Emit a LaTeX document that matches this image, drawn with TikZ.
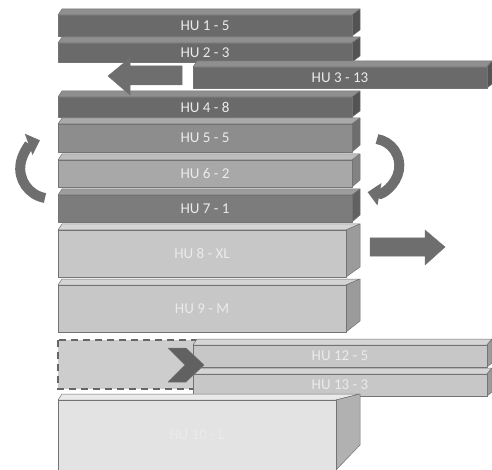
\documentclass[tikz,border=0pt]{standalone}
\usepackage{fontspec}
\setmainfont{Carlito}
\usepackage{tikz}
\usetikzlibrary{arrows.meta}
\definecolor{huDark}{HTML}{6A6A6A}
\definecolor{huMidDark}{HTML}{7C7C7C}
\definecolor{huMid}{HTML}{8D8D8D}
\definecolor{huLight}{HTML}{A8A8A8}
\definecolor{huPale}{HTML}{C7C7C7}
\definecolor{huWhite}{HTML}{E3E3E3}
\definecolor{slotgray}{HTML}{CDCDCD}
\definecolor{arrowgray}{HTML}{6E6E6E}

\begin{document}
\begin{tikzpicture}[
        x=1pt,y=-1pt,
        every node/.append style={font=\fontsize{15}{17}\selectfont}
    ]
    \tikzstyle{face}=[draw=black!55,line width=0.5pt,line join=round];
    \tikzstyle{lbl}=[text=white!92!black,inner sep=0pt];
    \tikzstyle{blk}=[fill=arrowgray,draw=black!55,line width=0.5pt,line join=round];
    \useasboundingbox (0,0) rectangle (492,470);
    % dashed slot
    \draw[fill=slotgray,draw=black!60,line width=1.5pt,dash pattern=on 7pt off 5pt] (58,340) rectangle (205,389);
    % boxes
    \foreach \n/\xa/\xb/\ya/\yb/\d/\s/\c/\t in {
        1/58/352/15/36/8/6/huDark/HU 1 - 5,
        2/58/352/43/62/8/6/huDark/HU 2 - 3,
        3/193/487/67/88/5/4/huDark/HU 3 - 13,
        4/58/352/97/117/8/6/huDark/HU 4 - 8,
        5/58/352/124/152/8/7/huMid/HU 5 - 5,
        6/58/352/160/187/8/7/huLight/HU 6 - 2,
        7/58/352/195/222/8/7/huMidDark/HU 7 - 1,
        8/58/346/230/277/14/10/huPale/HU 8 - XL,
        9/58/346/285/332/14/11/huPale/HU 9 - M,
        12/193/487/345/367/5/4/huPale/HU 12 - 5,
        13/193/487/374/396/5/4/huPale/HU 13 - 3,
        10/58/336/400/470/24/25/huWhite/HU 10 - L}{
        \filldraw[face,fill=\c!75!white] (\xa,\ya) -- ({\xa+4},{\ya-6}) -- ({\xb+\d},{\ya-6}) -- (\xb,\ya) -- cycle;
        \filldraw[face,fill=\c!78!black] (\xb,\ya) -- ({\xb+\d},{\ya-6}) -- ({\xb+\d},{\yb-\s}) -- (\xb,\yb) -- cycle;
        \filldraw[face,fill=\c] (\xa,\ya) rectangle (\xb,\yb);
        \node[lbl] (hu\n) at ({(\xa+\xb)/2},{(\ya+\yb)/2}) {\t};
    }
    % straight arrows
    \filldraw[blk] (182,66) -- (130,66) -- (130,58) -- (108,76) -- (130,95) -- (130,85) -- (182,85) -- cycle;
    \filldraw[blk] (370,238) -- (425,238) -- (425,230) -- (445,247) -- (425,265) -- (425,256) -- (370,256) -- cycle;
    % turn arrows
    \draw[arrowgray,line width=10pt,-{Triangle[width=22pt,length=12pt]}] (45,198) arc[start angle=100,end angle=250,radius=30];
    \draw[arrowgray,line width=10pt,-{Triangle[width=22pt,length=12pt]}] (377,139) arc[start angle=-80,end angle=100,radius=27];
    % chevron
    \filldraw[blk,fill=black!62] (168,348) -- (186,348) -- (204,365) -- (186,382) -- (168,382) -- (185,365) -- cycle;
\end{tikzpicture}
\end{document}
